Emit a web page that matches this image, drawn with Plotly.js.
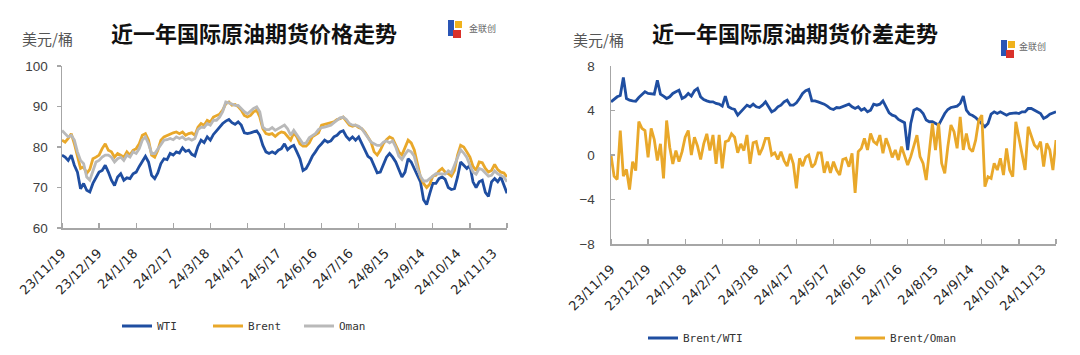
<!DOCTYPE html>
<html>
<head>
<meta charset="utf-8">
<script src="https://cdn.plot.ly/plotly-3.0.1.min.js"></script>
<style>html,body{margin:0;padding:0;background:#fff;}#chart{width:1080px;height:355px;}</style>
</head>
<body>
<div id="chart"></div>
<script>
const dateLabels = ['23/11/19','23/12/19','24/1/18','24/2/17','24/3/18','24/4/17','24/5/17','24/6/16','24/7/16','24/8/15','24/9/14','24/10/14','24/11/13'];

const wti = [
78.0,77.5,76.7,78.0,75.5,73.8,69.7,71.0,69.3,68.9,
71.0,72.6,73.8,74.2,75.5,73.8,71.8,70.5,72.6,73.4,
71.8,72.4,72.2,73.4,73.8,75.2,76.3,77.7,76.3,73.0,
72.2,73.6,75.9,77.1,76.9,78.4,78.0,78.8,78.5,79.8,
78.9,79.2,78.2,77.8,80.2,81.7,81.1,82.5,81.7,83.1,
84.0,84.9,85.8,86.4,86.8,86.0,85.6,86.2,85.4,83.5,
83.3,83.5,83.7,84.0,82.9,80.4,78.8,78.4,78.8,78.4,
79.2,79.6,80.8,79.3,80.0,80.4,78.8,77.1,74.2,74.7,
76.1,77.7,78.8,80.0,80.8,81.7,81.2,81.5,82.5,82.9,
83.7,84.0,82.6,81.8,82.5,81.7,82.5,80.8,79.3,77.7,
77.1,75.2,73.6,73.8,75.9,77.5,78.4,77.5,76.3,74.4,
72.6,73.8,77.1,76.3,74.7,72.8,71.4,67.0,65.8,68.5,
71.0,71.0,72.2,72.6,72.0,70.0,69.5,69.7,72.6,76.3,
75.5,74.7,75.5,71.4,70.0,71.4,71.8,68.8,67.8,71.4,
72.2,71.4,72.6,70.5,68.6];

const brent = [
81.7,81.2,82.1,83.3,80.8,77.5,74.7,75.1,73.5,74.5,
77.1,77.5,78.0,79.6,80.8,79.2,78.8,77.5,78.4,78.0,
77.5,78.8,78.0,79.2,79.6,80.8,82.9,83.3,81.7,78.0,
77.5,79.2,81.7,82.5,82.9,83.3,83.5,83.7,83.3,83.7,
82.9,83.3,83.5,82.9,84.9,85.8,85.4,86.6,86.2,87.4,
87.8,88.1,89.1,90.7,91.1,90.3,90.5,90.0,89.1,87.8,
87.4,87.8,88.7,89.1,87.4,84.5,83.3,83.1,83.3,82.6,
83.3,83.7,83.5,82.5,81.7,83.5,82.5,80.8,80.2,80.2,
81.0,82.5,83.1,83.5,85.4,85.6,85.8,86.0,86.2,86.8,
87.0,87.4,86.4,85.4,85.1,85.4,84.8,84.5,83.7,82.6,
81.2,78.8,78.0,79.2,80.8,81.8,82.5,82.1,80.4,78.8,
78.0,79.8,81.7,81.0,79.3,75.9,72.6,71.0,70.0,70.8,
72.8,73.0,74.1,74.7,73.8,73.4,72.8,74.2,78.0,80.4,
80.0,78.8,77.5,75.2,74.2,76.3,76.1,74.7,73.8,74.2,
75.7,74.4,73.8,73.6,72.6];

const oman = [
84.1,83.3,82.5,82.9,81.7,78.8,76.7,75.9,72.6,71.8,
74.2,76.3,76.7,77.5,78.0,78.0,77.5,76.3,77.1,77.5,
76.7,78.0,77.5,78.8,78.4,79.6,81.7,82.5,80.8,78.4,
78.4,79.6,80.8,81.7,81.8,82.1,81.8,82.5,82.1,82.5,
81.8,82.1,81.7,82.1,84.3,84.9,84.8,85.8,85.4,86.6,
86.6,87.4,88.7,91.1,90.9,90.5,90.3,90.3,89.5,88.7,
88.2,88.9,89.5,89.9,88.7,84.9,84.3,84.3,84.8,84.1,
84.5,84.8,85.4,84.5,82.9,84.1,82.9,81.8,80.8,81.0,
82.3,82.8,83.3,84.3,84.8,84.9,85.2,85.4,86.0,86.6,
87.2,87.4,86.8,85.8,85.4,85.4,85.1,84.5,83.5,82.3,
81.2,80.8,80.4,80.4,81.2,81.5,81.0,81.5,80.0,77.7,
76.9,78.2,79.2,78.8,77.7,74.7,72.8,71.6,71.6,72.2,
72.8,73.4,73.4,73.4,73.3,74.1,73.6,75.5,77.5,79.3,
78.5,77.4,75.5,73.8,73.3,74.7,74.4,73.6,72.8,73.0,
74.1,73.4,73.0,72.6,71.4];

const brentWti = [
4.78,5.02,5.23,5.35,6.96,5.08,4.93,4.87,4.84,5.17,
5.47,5.68,5.53,5.47,5.47,6.72,5.47,5.29,5.08,5.23,
5.53,5.68,5.83,5.08,5.23,5.53,5.29,5.77,5.98,5.23,
4.99,4.87,4.78,4.78,4.63,4.57,4.39,5.29,4.33,4.18,
4.09,3.58,3.88,4.27,4.48,4.33,4.57,4.33,4.27,4.48,
4.78,4.33,3.88,4.03,4.33,4.48,4.78,4.93,4.48,4.48,
4.69,5.08,5.53,5.77,5.89,4.87,4.87,4.78,4.69,4.57,
4.39,4.18,4.09,4.27,4.24,4.33,4.48,4.57,4.33,4.18,
4.33,4.03,4.18,3.88,4.03,4.57,4.48,4.57,4.87,4.39,
3.79,3.58,3.49,3.20,3.08,2.90,0.45,2.84,4.03,4.18,
4.03,3.73,3.14,2.99,2.99,2.84,2.69,3.20,3.73,4.09,
4.27,4.33,4.39,4.63,5.29,4.03,3.67,3.55,3.37,3.08,
2.84,2.54,2.84,3.67,3.88,3.73,3.88,3.73,3.58,3.73,
3.79,3.79,3.73,3.88,3.88,4.18,4.18,4.03,3.88,3.73,
3.29,3.43,3.67,3.79,3.88];

const brentOman = [
0.0,-1.9,-2.2,2.2,-1.9,-1.3,-3.1,-0.6,-1.4,3.0,
2.4,2.2,-0.2,2.4,1.4,-0.5,1.0,-2.1,3.1,0.7,
-0.8,0.4,-0.6,0.3,1.6,2.2,0.0,1.6,0.8,-0.4,
1.0,1.9,0.4,1.8,-0.8,1.8,-1.2,1.2,1.3,1.9,
1.6,0.2,1.0,0.4,1.8,-0.8,1.1,1.2,0.0,0.6,
1.5,1.5,0.0,0.2,-0.4,0.3,-0.5,-1.0,0.1,-0.8,
-3.0,-0.3,-1.0,-0.2,0.0,-1.1,-0.8,0.2,0.2,-1.6,
-0.6,-1.6,-0.6,-1.35,-1.8,-0.4,-0.3,-1.05,0.15,-3.4,
0.3,0.6,1.5,0.45,1.94,1.2,0.98,1.79,0.15,1.5,
0.75,-0.21,0.45,-0.45,0.75,-0.15,-0.9,-0.15,0.75,1.79,
-0.15,-0.75,-2.25,0.45,2.84,0.45,2.84,-0.75,-1.65,0.75,
2.69,2.09,0.6,3.43,0.45,1.94,0.6,0.3,1.34,3.13,
3.58,-2.84,-1.95,-2.1,-0.75,-1.35,-0.3,-1.8,0.6,-1.35,
-1.95,2.99,1.5,0.0,-1.35,2.54,1.79,0.9,0.6,1.2,
-1.05,1.04,0.45,-1.35,1.34];

// ---------- chart ----------
const W = 1080, H = 355;
const idx = wti.map((_, i) => i);
const nSteps = wti.length - 1;
const labelStep = 11.62;                 // labels sit slightly ahead of the tick marks
const labelVals = dateLabels.map((_, k) => k * labelStep);

const BLUE = '#1f4ea1', ORANGE = '#e9a82a', GREY = '#b9b9b9';
const AXC = '#a6a6a6';
const px = v => v / W, py = v => 1 - v / H;

function line(name, y, color, xa, ya, leg) {
  return {x: idx, y: y, name: name, type: 'scatter', mode: 'lines',
          line: {color: color, width: 2.8}, xaxis: xa, yaxis: ya, legend: leg,
          hoverinfo: 'skip'};
}

const data = [
  line('WTI', wti, BLUE, 'x', 'y', 'legend'),
  line('Brent', brent, ORANGE, 'x', 'y', 'legend'),
  line('Oman', oman, GREY, 'x', 'y', 'legend'),
  line('Brent/WTI', brentWti, BLUE, 'x2', 'y2', 'legend2'),
  line('Brent/Oman', brentOman, ORANGE, 'x2', 'y2', 'legend2')
];

function xAxis(domain, anchor) {
  return {domain: domain, anchor: anchor, range: [0, nSteps], tickmode: 'array',
    tickvals: labelVals, ticktext: dateLabels, tickangle: -45, ticks: '',
    showline: true, linecolor: AXC, linewidth: 1.5, showgrid: false, zeroline: false,
    ticklabelstandoff: 11,
    tickfont: {family: 'DejaVu Sans, sans-serif', size: 13, color: '#262626'},
    minor: {tick0: 0, dtick: 12, ticks: 'inside', ticklen: 5, tickcolor: AXC, tickwidth: 1.2, showgrid: false},
    fixedrange: true};
}
function yAxis(domain, anchor, range, dtick, ticksDir) {
  return {domain: domain, anchor: anchor, range: range, dtick: dtick, tick0: range[0],
    ticks: ticksDir, ticklen: 4, tickcolor: AXC, tickwidth: 1.2,
    showline: true, linecolor: AXC, linewidth: 1.5, showgrid: false, zeroline: false,
    ticklabelstandoff: ticksDir === 'inside' ? 12 : 6,
    tickfont: {family: 'Liberation Sans, Arial, sans-serif', size: 13.5, color: '#404040'},
    fixedrange: true};
}

const legFont = {family: 'DejaVu Sans Mono, monospace', size: 11, color: '#333'};

const titleFont = {family: 'Noto Sans CJK SC', size: 22, color: '#111', weight: 'bold'};
const unitFont = {family: 'Noto Sans CJK SC', size: 15, color: '#555'};

const annotations = [
  {text: '<b>近一年国际原油期货价格走势</b>', x: px(254), y: py(32), xref: 'paper', yref: 'paper',
   showarrow: false, font: titleFont, xanchor: 'center', yanchor: 'middle'},
  {text: '<b>近一年国际原油期货价差走势</b>', x: px(795), y: py(32), xref: 'paper', yref: 'paper',
   showarrow: false, font: titleFont, xanchor: 'center', yanchor: 'middle'},
  {text: '美元/桶', x: px(20), y: py(39), xref: 'paper', yref: 'paper', showarrow: false,
   font: unitFont, xanchor: 'left', yanchor: 'middle'},
  {text: '美元/桶', x: px(571), y: py(40), xref: 'paper', yref: 'paper', showarrow: false,
   font: unitFont, xanchor: 'left', yanchor: 'middle'},
  {text: '金联创', x: px(467), y: py(28), xref: 'paper', yref: 'paper', showarrow: false,
   font: {family: 'Noto Sans CJK SC', size: 9, color: '#666'}, xanchor: 'left', yanchor: 'middle'},
  {text: '金联创', x: px(1017), y: py(46), xref: 'paper', yref: 'paper', showarrow: false,
   font: {family: 'Noto Sans CJK SC', size: 9, color: '#666'}, xanchor: 'left', yanchor: 'middle'}
];

function logo(x0, y0) {
  return [
    {type: 'rect', xref: 'paper', yref: 'paper', x0: px(x0), x1: px(x0 + 6), y0: py(y0 + 16), y1: py(y0), fillcolor: '#2a55b5', line: {width: 0}},
    {type: 'rect', xref: 'paper', yref: 'paper', x0: px(x0 + 7), x1: px(x0 + 14), y0: py(y0 + 8), y1: py(y0 + 1), fillcolor: '#f0b21c', line: {width: 0}},
    {type: 'rect', xref: 'paper', yref: 'paper', x0: px(x0 + 5), x1: px(x0 + 13), y0: py(y0 + 18), y1: py(y0 + 10), fillcolor: '#d9312a', line: {width: 0}}
  ];
}

const layout = {
  width: W, height: H, margin: {l: 0, r: 0, t: 0, b: 0},
  paper_bgcolor: '#fff', plot_bgcolor: '#fff', showlegend: true,
  xaxis: xAxis([px(62), px(507)], 'y'),
  yaxis: yAxis([py(228), py(66)], 'x', [60, 100], 10, 'outside'),
  xaxis2: xAxis([px(611), px(1056)], 'y2'),
  yaxis2: yAxis([py(244), py(66)], 'x2', [-8, 8], 4, 'inside'),
  legend: {orientation: 'h', x: px(117), y: py(326), xanchor: 'left', yanchor: 'middle',
           font: legFont, entrywidth: 46, bgcolor: 'rgba(0,0,0,0)', traceorder: 'normal'},
  legend2: {orientation: 'h', x: px(643), y: py(338), xanchor: 'left', yanchor: 'middle',
           font: legFont, entrywidth: 162, bgcolor: 'rgba(0,0,0,0)', traceorder: 'normal'},
  annotations: annotations,
  shapes: logo(448, 20).concat(logo(1001, 40))
};

Plotly.newPlot('chart', data, layout, {staticPlot: true, displayModeBar: false});
</script>
</body>
</html>
